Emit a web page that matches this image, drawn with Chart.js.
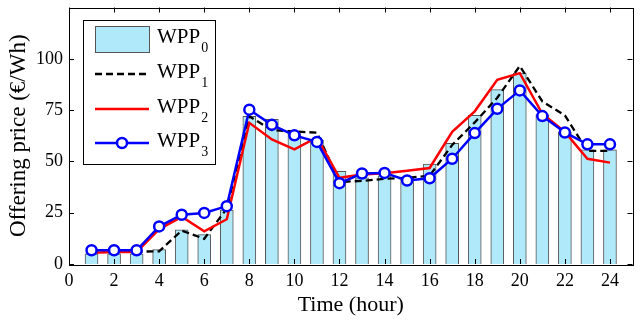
<!DOCTYPE html>
<html>
<head>
<meta charset="utf-8">
<script src="https://cdn.jsdelivr.net/npm/chart.js@4.4.1/dist/chart.umd.min.js"></script>
<style>
    html, body { margin: 0; padding: 0; background: #fff; }
    #wrap { width: 640px; height: 320px; }
</style>
</head>
<body>
<div id="wrap"><canvas id="priceChart" width="640" height="320"></canvas></div>
<script>
    // hours of the day
    const hours = [1, 2, 3, 4, 5, 6, 7, 8, 9, 10, 11, 12, 13, 14, 15, 16, 17, 18, 19, 20, 21, 22, 23, 24];

    // offering price per plant (€/Wh)
    const wpp0 = [5, 5, 5, 7, 16.7, 14.3, 26.3, 72, 70.5, 63.6, 60.4, 45.2, 42, 43, 42, 48.7, 58.8, 72.4, 85, 93, 72.7, 64.4, 55.6, 55.6];
    const wpp1 = [6, 6, 6, 6.2, 16.3, 12.3, 27, 72, 65.2, 64.6, 64, 40, 40.5, 41.5, 42, 43, 58, 69, 81, 96.5, 79.2, 72.4, 55.1, 55.1];
    const wpp2 = [5.5, 5.8, 5.8, 17, 23, 15.9, 21.8, 68.8, 60.7, 55.9, 61.7, 42, 43.6, 44.2, 45.5, 46.8, 64.4, 74.4, 89.8, 93, 73.2, 64.4, 51.3, 49.4];
    const wpp3 = [6.7, 6.7, 6.7, 18.3, 24, 24.9, 28.2, 75.2, 67.8, 62.7, 59.5, 39.4, 44.1, 44.4, 40.7, 41.8, 51.3, 63.8, 75.6, 84.6, 72.1, 64.1, 58.3, 58.3];

    // axis ticks
    const xTicks = [0, 2, 4, 6, 8, 10, 12, 14, 16, 18, 20, 22, 24];
    const yTicks = [0, 25, 50, 75, 100];

    const legendNames = ['WPP', 'WPP', 'WPP', 'WPP'];
    const legendSubs = ['0', '1', '2', '3'];

    const serif = 'Liberation Serif, Times New Roman, serif';

    function toPoints(values) {
        return hours.map((h, i) => ({ x: h, y: values[i] }));
    }

    // box round the plot with inward ticks on all four sides
    const framePlugin = {
        id: 'frame',
        afterDatasetsDraw(chart) {
            const { ctx, chartArea: a, scales } = chart;
            ctx.save();
            ctx.strokeStyle = '#000';
            ctx.lineWidth = 1;
            ctx.beginPath();
            xTicks.forEach(v => {
                const px = Math.round(scales.x.getPixelForValue(v)) + 0.5;
                ctx.moveTo(px, a.bottom); ctx.lineTo(px, a.bottom - 5);
                ctx.moveTo(px, a.top); ctx.lineTo(px, a.top + 5);
            });
            yTicks.forEach(v => {
                const py = Math.round(scales.y.getPixelForValue(v)) + 0.5;
                ctx.moveTo(a.left, py); ctx.lineTo(a.left + 5, py);
                ctx.moveTo(a.right, py); ctx.lineTo(a.right - 5, py);
            });
            ctx.stroke();
            ctx.strokeRect(Math.round(a.left) + 0.5, Math.round(a.top) + 0.5,
                Math.round(a.right - a.left), Math.round(a.bottom - a.top));
            ctx.restore();
        }
    };

    // legend box inside the plot, with subscripts
    const boxLegendPlugin = {
        id: 'boxLegend',
        afterDraw(chart) {
            const ctx = chart.ctx;
            const left = 83.5, top = 20.5, w = 132, h = 144;
            ctx.save();
            ctx.fillStyle = '#fff';
            ctx.fillRect(left, top, w, h);
            ctx.strokeStyle = '#000';
            ctx.lineWidth = 1;
            ctx.strokeRect(left, top, w, h);

            const rows = [39, 74, 109, 143];
            const x0 = 95, x1 = 149;
            chart.data.datasets.forEach((ds, i) => {
                const y = rows[i];
                ctx.setLineDash([]);
                if (ds.type === 'bar' || !ds.type) {
                    ctx.fillStyle = ds.backgroundColor;
                    ctx.fillRect(x0, y - 13, x1 - x0, 26);
                    ctx.strokeStyle = ds.borderColor;
                    ctx.lineWidth = 1;
                    ctx.strokeRect(x0 + 0.5, y - 12.5, x1 - x0, 26);
                } else {
                    ctx.strokeStyle = ds.borderColor;
                    ctx.lineWidth = ds.borderWidth;
                    ctx.setLineDash(ds.borderDash || []);
                    ctx.beginPath();
                    ctx.moveTo(x0, y);
                    ctx.lineTo(x1, y);
                    ctx.stroke();
                    ctx.setLineDash([]);
                    if (ds.pointRadius > 0) {
                        ctx.beginPath();
                        ctx.arc((x0 + x1) / 2, y, ds.pointRadius, 0, Math.PI * 2);
                        ctx.fillStyle = ds.pointBackgroundColor;
                        ctx.fill();
                        ctx.lineWidth = ds.pointBorderWidth;
                        ctx.strokeStyle = ds.borderColor;
                        ctx.stroke();
                    }
                }
                ctx.fillStyle = '#000';
                ctx.textBaseline = 'alphabetic';
                ctx.font = '21px ' + serif;
                ctx.fillText(legendNames[i], 157, y + 4);
                const wMain = ctx.measureText(legendNames[i]).width;
                ctx.font = '14px ' + serif;
                ctx.fillText(legendSubs[i], 157 + wMain + 1, y + 13);
            });
            ctx.restore();
        }
    };

    const ctx = document.getElementById('priceChart').getContext('2d');
    new Chart(ctx, {
        type: 'bar',
        data: {
            datasets: [
                {
                    type: 'bar',
                    label: 'WPP0',
                    data: toPoints(wpp0),
                    backgroundColor: 'rgb(176, 234, 250)',
                    borderColor: '#555',
                    borderWidth: 1,
                    barThickness: 13,
                    order: 4
                },
                {
                    type: 'line',
                    label: 'WPP1',
                    data: toPoints(wpp1),
                    borderColor: '#000',
                    borderWidth: 2.3,
                    borderDash: [7, 4],
                    pointRadius: 0,
                    tension: 0,
                    order: 3
                },
                {
                    type: 'line',
                    label: 'WPP2',
                    data: toPoints(wpp2),
                    borderColor: '#ff0000',
                    borderWidth: 2.5,
                    pointRadius: 0,
                    tension: 0,
                    order: 2
                },
                {
                    type: 'line',
                    label: 'WPP3',
                    data: toPoints(wpp3),
                    borderColor: '#0000ff',
                    borderWidth: 2.5,
                    pointRadius: 5,
                    pointBackgroundColor: '#fff',
                    pointBorderColor: '#0000ff',
                    pointBorderWidth: 2.5,
                    tension: 0,
                    order: 1
                }
            ]
        },
        options: {
            responsive: false,
            animation: false,
            layout: { padding: { top: 5, right: 3, left: 0, bottom: 0 } },
            plugins: {
                legend: { display: false },
                tooltip: { enabled: false }
            },
            scales: {
                x: {
                    type: 'linear',
                    min: 0,
                    max: 25,
                    offset: false,
                    grid: { display: false, drawTicks: false },
                    border: { display: false },
                    afterFit: s => {
                        s.height = 56;
                        s.paddingLeft = 0;
                        s.paddingRight = 0;
                    },
                    ticks: {
                        stepSize: 2,
                        includeBounds: false,
                        autoSkip: false,
                        maxRotation: 0,
                        padding: 6,
                        color: '#000',
                        font: { family: serif, size: 18 },
                        callback: v => xTicks.includes(v) ? v : ''
                    },
                    title: {
                        display: true,
                        text: 'Time (hour)',
                        color: '#000',
                        font: { family: serif, size: 22 },
                        padding: { top: 0, bottom: 2 }
                    }
                },
                y: {
                    min: 0,
                    max: 125,
                    grid: { display: false, drawTicks: false },
                    border: { display: false },
                    afterFit: s => {
                        s.width = 69;
                        s.paddingTop = 0;
                        s.paddingBottom = 0;
                    },
                    ticks: {
                        stepSize: 25,
                        padding: 6,
                        color: '#000',
                        font: { family: serif, size: 18 },
                        callback: v => yTicks.includes(v) ? v : ''
                    },
                    title: {
                        display: true,
                        text: 'Offering price (€/Wh)',
                        color: '#000',
                        font: { family: serif, size: 23 },
                        padding: { top: 5, bottom: 0 }
                    }
                }
            }
        },
        plugins: [framePlugin, boxLegendPlugin]
    });
</script>
</body>
</html>
